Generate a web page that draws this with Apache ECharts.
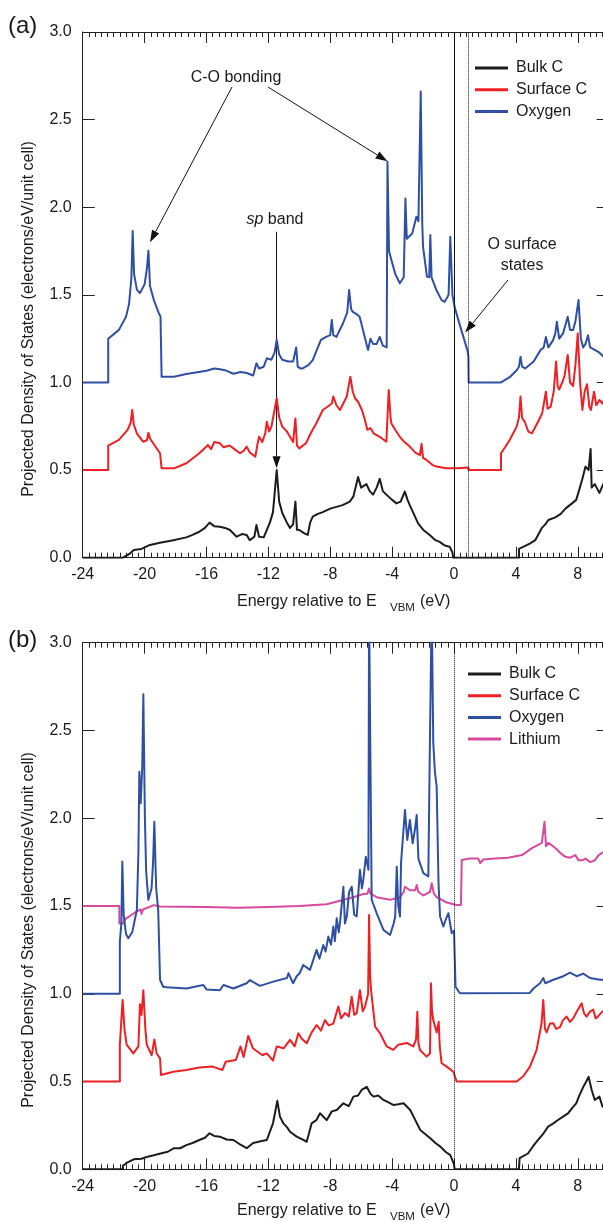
<!DOCTYPE html>
<html><head><meta charset="utf-8">
<script src="https://cdn.jsdelivr.net/npm/echarts@6/dist/echarts.min.js"></script>
<style>html,body{margin:0;padding:0;background:#fff}#c{width:603px;height:1222px}</style>
</head><body><div id="c"></div>
<script>
// ---------- axis ranges / ticks ----------
const X_MIN = -24, X_MAX = 10, X_MAJOR = 4, X_MINOR = 0.4, X_LAST_LABEL = 8;
const Y_MIN = 0, Y_MAX = 3, Y_STEP = 0.5;
const NAMES = ['Bulk C', 'Surface C', 'Oxygen', 'Lithium'];
const COLORS = ['#1c1c1c', '#ee2024', '#2f50a2', '#d84a9e'];
const X_TITLE = ['Energy relative to E', 'VBM', '(eV)'];
const Y_TITLE = 'Projected Density of States (electrons/eV/unit cell)';

// ---------- panel (a) data: [energy (eV), PDOS] ----------
const bulkA = [[-24,0],[-21.4,0],[-21.4,0.01],[-21.0,0.02],[-20.7,0.044],[-20.2,0.05],[-19.65,0.073],[-19.0,0.085],[-18.14,0.10],[-17.3,0.116],[-16.9,0.13],[-16.46,0.148],[-16.1,0.17],[-15.8,0.2],[-15.5,0.18],[-15.13,0.177],[-14.8,0.17],[-14.48,0.158],[-14.05,0.12],[-13.7,0.135],[-13.4,0.13],[-13.2,0.10],[-12.9,0.12],[-12.77,0.187],[-12.6,0.12],[-12.3,0.116],[-11.9,0.2],[-11.7,0.26],[-11.46,0.50],[-11.3,0.32],[-11.1,0.255],[-10.8,0.2],[-10.6,0.17],[-10.4,0.19],[-10.25,0.32],[-10.15,0.16],[-10.0,0.158],[-9.7,0.14],[-9.45,0.13],[-9.3,0.2],[-9.13,0.234],[-8.8,0.25],[-8.48,0.26],[-8.0,0.28],[-7.6,0.29],[-7.2,0.3],[-6.74,0.32],[-6.5,0.35],[-6.2,0.46],[-6.0,0.40],[-5.66,0.42],[-5.45,0.38],[-5.23,0.36],[-5.0,0.40],[-4.8,0.45],[-4.6,0.38],[-4.37,0.36],[-4.0,0.33],[-3.72,0.31],[-3.45,0.32],[-3.18,0.377],[-3.0,0.33],[-2.86,0.30],[-2.6,0.25],[-2.32,0.196],[-2.0,0.16],[-1.57,0.13],[-1.2,0.1],[-0.93,0.09],[-0.6,0.07],[-0.28,0.063],[-0.1,0.03],[-0.05,0],[4.2,0],[4.2,0.05],[4.5,0.063],[4.9,0.08],[5.25,0.10],[5.68,0.17],[5.9,0.19],[6.1,0.215],[6.55,0.23],[6.9,0.25],[7.2,0.28],[7.63,0.31],[7.9,0.33],[8.07,0.38],[8.3,0.45],[8.5,0.52],[8.7,0.5],[8.83,0.62],[8.9,0.40],[9.1,0.42],[9.4,0.37],[9.7,0.43],[10,0.38]];
const surfA = [[-24,0.5],[-22.35,0.5],[-22.35,0.64],[-22.3,0.64],[-21.66,0.672],[-21.1,0.73],[-20.9,0.77],[-20.8,0.843],[-20.7,0.76],[-20.5,0.71],[-20.1,0.662],[-19.85,0.67],[-19.75,0.713],[-19.65,0.68],[-19.5,0.66],[-19.0,0.596],[-18.9,0.596],[-18.9,0.51],[-18.1,0.51],[-17.3,0.539],[-16.46,0.596],[-15.9,0.643],[-15.7,0.62],[-15.5,0.66],[-15.13,0.653],[-14.9,0.63],[-14.5,0.64],[-14.26,0.624],[-13.83,0.596],[-13.6,0.61],[-13.4,0.634],[-13.2,0.6],[-12.84,0.577],[-12.7,0.65],[-12.6,0.69],[-12.4,0.66],[-12.2,0.71],[-12.1,0.776],[-11.95,0.72],[-11.8,0.748],[-11.46,0.91],[-11.3,0.8],[-11.1,0.748],[-10.8,0.72],[-10.6,0.69],[-10.4,0.66],[-10.25,0.795],[-10.15,0.64],[-10.0,0.624],[-9.57,0.653],[-9.2,0.72],[-8.9,0.767],[-8.48,0.843],[-8.2,0.86],[-7.9,0.88],[-7.8,0.92],[-7.6,0.87],[-7.37,0.843],[-6.93,0.92],[-6.7,1.033],[-6.55,0.95],[-6.4,0.91],[-6.2,0.89],[-5.95,0.843],[-5.8,0.8],[-5.6,0.73],[-5.4,0.74],[-5.2,0.71],[-5.0,0.7],[-4.8,0.69],[-4.37,0.662],[-4.25,0.66],[-4.22,0.957],[-4.1,0.8],[-4.05,0.767],[-3.8,0.73],[-3.5,0.69],[-3.2,0.66],[-2.86,0.634],[-2.5,0.6],[-2.2,0.586],[-2.1,0.65],[-2.0,0.57],[-1.78,0.558],[-1.4,0.53],[-1.14,0.52],[-0.5,0.51],[0.2,0.51],[0.93,0.515],[0.95,0.5],[3.04,0.5],[3.04,0.596],[3.3,0.63],[3.6,0.672],[4.05,0.748],[4.2,0.8],[4.3,0.92],[4.4,0.8],[4.6,0.77],[4.8,0.72],[5.04,0.71],[5.4,0.77],[5.7,0.824],[5.94,0.947],[6.05,0.85],[6.25,0.862],[6.45,0.95],[6.6,1.12],[6.7,0.98],[6.8,0.96],[7.0,1.0],[7.15,1.04],[7.35,1.157],[7.5,1.0],[7.7,0.98],[7.85,1.1],[8.0,1.28],[8.15,1.0],[8.3,0.843],[8.45,0.95],[8.6,0.99],[8.75,0.86],[8.85,0.843],[9.05,0.947],[9.2,0.87],[9.4,0.90],[9.6,0.88],[9.8,0.92],[10,0.9]];
const oxyA = [[-24,1.0],[-22.35,1.0],[-22.35,1.25],[-22.3,1.24],[-21.66,1.30],[-21.2,1.375],[-21.0,1.45],[-20.85,1.6],[-20.77,1.865],[-20.68,1.62],[-20.5,1.53],[-20.3,1.51],[-20.0,1.56],[-19.85,1.65],[-19.75,1.752],[-19.65,1.55],[-19.4,1.47],[-19.1,1.40],[-18.97,1.375],[-18.9,1.033],[-18.1,1.033],[-17.3,1.048],[-16.0,1.067],[-15.5,1.08],[-15.13,1.075],[-14.8,1.07],[-14.26,1.05],[-13.8,1.06],[-13.4,1.054],[-12.98,1.04],[-12.77,1.11],[-12.6,1.08],[-12.3,1.09],[-12.1,1.138],[-11.8,1.13],[-11.6,1.17],[-11.46,1.243],[-11.3,1.16],[-11.1,1.13],[-10.7,1.12],[-10.4,1.12],[-10.2,1.2],[-10.1,1.09],[-9.93,1.08],[-9.78,1.08],[-9.4,1.1],[-9.13,1.128],[-8.8,1.2],[-8.6,1.243],[-8.27,1.26],[-8.0,1.27],[-7.9,1.357],[-7.8,1.27],[-7.6,1.26],[-7.17,1.338],[-6.9,1.4],[-6.78,1.528],[-6.65,1.42],[-6.56,1.404],[-6.3,1.39],[-6.1,1.375],[-5.77,1.26],[-5.6,1.2],[-5.55,1.186],[-5.4,1.25],[-5.23,1.22],[-5.0,1.22],[-4.8,1.26],[-4.6,1.21],[-4.35,1.2],[-4.3,2.26],[-4.2,1.75],[-4.05,1.70],[-3.8,1.62],[-3.5,1.566],[-3.25,1.6],[-3.14,2.05],[-3.05,1.82],[-2.97,1.813],[-2.7,1.85],[-2.43,1.946],[-2.3,1.92],[-2.15,2.66],[-2.05,1.9],[-2.0,1.775],[-1.75,1.604],[-1.6,1.6],[-1.53,1.842],[-1.45,1.6],[-1.14,1.528],[-0.8,1.47],[-0.6,1.46],[-0.35,1.5],[-0.24,1.832],[-0.1,1.5],[0.04,1.43],[0.47,1.30],[0.86,1.186],[0.93,1.15],[0.95,1.0],[3.04,1.0],[3.6,1.03],[4.05,1.07],[4.2,1.09],[4.3,1.147],[4.4,1.09],[4.6,1.08],[5.15,1.12],[5.6,1.186],[5.8,1.2],[5.94,1.26],[6.1,1.2],[6.4,1.24],[6.55,1.28],[6.65,1.347],[6.8,1.25],[7.05,1.28],[7.35,1.375],[7.5,1.3],[7.7,1.30],[7.85,1.35],[8.05,1.47],[8.2,1.25],[8.35,1.2],[8.5,1.22],[8.66,1.27],[8.8,1.2],[9.1,1.186],[9.4,1.17],[9.75,1.14],[10,1.13]];

// ---------- panel (b) data ----------
const bulkB = [[-24,0],[-21.4,0],[-21.4,0.02],[-21.1,0.04],[-20.7,0.057],[-20.2,0.06],[-19.8,0.072],[-19.4,0.08],[-18.97,0.09],[-18.5,0.1],[-18.1,0.12],[-17.7,0.12],[-17.3,0.138],[-16.9,0.15],[-16.46,0.167],[-16.1,0.18],[-15.8,0.205],[-15.5,0.19],[-15.13,0.186],[-14.7,0.17],[-14.26,0.167],[-13.8,0.14],[-13.4,0.12],[-12.98,0.15],[-12.5,0.16],[-12.1,0.167],[-11.7,0.262],[-11.42,0.39],[-11.25,0.3],[-11.03,0.262],[-10.8,0.24],[-10.6,0.214],[-10.17,0.186],[-9.8,0.17],[-9.52,0.157],[-9.2,0.262],[-8.9,0.28],[-8.66,0.319],[-8.23,0.28],[-7.9,0.33],[-7.58,0.338],[-7.15,0.376],[-6.8,0.36],[-6.5,0.414],[-6.2,0.42],[-5.97,0.452],[-5.64,0.47],[-5.4,0.43],[-5.2,0.414],[-4.9,0.42],[-4.56,0.395],[-4.2,0.38],[-3.9,0.366],[-3.6,0.37],[-3.26,0.376],[-2.83,0.338],[-2.5,0.28],[-2.18,0.224],[-1.85,0.2],[-1.53,0.177],[-1.2,0.15],[-0.88,0.129],[-0.55,0.1],[-0.24,0.081],[0.0,0.03],[0.04,0],[4.2,0],[4.24,0.063],[4.78,0.09],[5.1,0.13],[5.43,0.167],[5.75,0.2],[6.08,0.243],[6.4,0.26],[6.72,0.281],[7.05,0.3],[7.37,0.319],[7.65,0.35],[7.9,0.376],[8.1,0.42],[8.36,0.47],[8.55,0.5],[8.7,0.527],[8.9,0.452],[9.1,0.395],[9.4,0.414],[9.6,0.357],[10,0.37]];
const surfB = [[-24,0.5],[-21.6,0.5],[-21.6,0.708],[-21.42,0.965],[-21.3,0.8],[-21.16,0.71],[-20.73,0.66],[-20.4,0.70],[-20.3,0.94],[-20.2,0.88],[-20.08,1.02],[-19.95,0.8],[-19.86,0.71],[-19.54,0.65],[-19.37,0.74],[-19.22,0.66],[-19.0,0.632],[-18.94,0.537],[-18.14,0.556],[-17.3,0.566],[-16.46,0.58],[-15.6,0.585],[-14.97,0.566],[-14.75,0.613],[-14.1,0.623],[-13.8,0.70],[-13.6,0.64],[-13.3,0.76],[-13.0,0.69],[-12.38,0.65],[-12.1,0.66],[-11.7,0.62],[-11.46,0.70],[-11.0,0.69],[-10.6,0.737],[-10.3,0.70],[-10.06,0.775],[-9.85,0.745],[-9.52,0.718],[-9.2,0.78],[-8.88,0.822],[-8.6,0.79],[-8.34,0.85],[-8.1,0.82],[-7.8,0.83],[-7.48,0.927],[-7.3,0.86],[-7.05,0.89],[-6.8,0.87],[-6.61,0.983],[-6.45,0.88],[-6.29,0.89],[-6.08,1.02],[-5.9,0.9],[-5.75,0.927],[-5.55,1.0],[-5.49,1.449],[-5.42,1.1],[-5.36,1.02],[-5.1,0.813],[-4.78,0.775],[-4.35,0.70],[-3.92,0.68],[-3.6,0.71],[-3.49,0.70],[-3.06,0.72],[-2.63,0.70],[-2.45,0.74],[-2.37,0.898],[-2.3,0.72],[-2.2,0.68],[-1.77,0.642],[-1.55,0.66],[-1.49,1.06],[-1.42,0.9],[-1.34,0.85],[-1.12,0.78],[-0.99,0.84],[-0.92,0.7],[-0.8,0.604],[-0.47,0.585],[-0.04,0.556],[0.17,0.5],[4.05,0.5],[4.48,0.53],[4.91,0.585],[5.34,0.68],[5.66,0.832],[5.77,0.965],[5.88,0.8],[5.99,0.78],[6.2,0.83],[6.42,0.832],[6.6,0.8],[6.85,0.81],[7.05,0.85],[7.28,0.87],[7.5,0.84],[7.71,0.86],[7.95,0.9],[8.25,0.946],[8.4,0.89],[8.57,0.87],[8.8,0.9],[9.0,0.91],[9.15,0.86],[9.3,0.87],[9.6,0.90],[10,0.89]];
const oxyB = [[-24,1.0],[-21.6,1.0],[-21.6,1.297],[-21.5,1.4],[-21.44,1.753],[-21.35,1.45],[-21.2,1.34],[-21.05,1.316],[-20.8,1.35],[-20.5,1.477],[-20.4,1.8],[-20.34,2.265],[-20.25,2.085],[-20.15,2.3],[-20.08,2.706],[-19.98,2.0],[-19.9,1.7],[-19.76,1.535],[-19.55,1.6],[-19.45,1.75],[-19.37,1.98],[-19.25,1.6],[-19.12,1.477],[-19.0,1.08],[-18.8,1.04],[-18.58,1.037],[-17.3,1.03],[-16.2,1.05],[-16.0,1.025],[-15.13,1.02],[-14.9,1.05],[-14.26,1.03],[-13.4,1.06],[-13.19,1.078],[-12.55,1.045],[-11.68,1.069],[-10.8,1.09],[-10.7,1.117],[-10.4,1.06],[-10.17,1.1],[-9.98,1.117],[-9.74,1.164],[-9.31,1.136],[-8.88,1.25],[-8.7,1.2],[-8.45,1.278],[-8.3,1.24],[-8.12,1.326],[-7.95,1.28],[-7.8,1.383],[-7.7,1.3],[-7.58,1.43],[-7.45,1.35],[-7.37,1.402],[-7.15,1.61],[-7.05,1.4],[-6.93,1.44],[-6.78,1.58],[-6.61,1.61],[-6.45,1.45],[-6.29,1.44],[-6.08,1.706],[-5.95,1.6],[-5.86,1.65],[-5.7,1.78],[-5.53,1.706],[-5.49,3.2],[-5.43,3.2],[-5.32,1.535],[-5.0,1.459],[-4.56,1.364],[-4.13,1.335],[-3.9,1.4],[-3.8,1.44],[-3.7,1.724],[-3.6,1.5],[-3.49,1.44],[-3.42,1.75],[-3.17,2.047],[-3.02,1.876],[-2.85,1.99],[-2.67,1.857],[-2.5,1.95],[-2.41,2.019],[-2.3,1.77],[-1.98,1.687],[-1.66,1.668],[-1.55,2.484],[-1.44,3.2],[-1.38,3.2],[-1.34,2.43],[-1.23,2.26],[-1.12,2.18],[-1.0,1.63],[-0.9,1.44],[-0.69,1.383],[-0.5,1.43],[-0.36,1.459],[-0.15,1.345],[0.0,1.36],[0.1,1.04],[0.38,1.003],[4.9,1.005],[5.13,1.03],[5.56,1.06],[5.77,1.09],[5.9,1.06],[6.42,1.08],[7.07,1.1],[7.5,1.12],[7.93,1.1],[8.36,1.115],[8.79,1.09],[9.44,1.08],[10,1.08]];
const liB = [[-24,1.5],[-21.63,1.5],[-21.63,1.40],[-21.4,1.40],[-21.2,1.43],[-21.0,1.44],[-20.5,1.47],[-20.25,1.48],[-20.2,1.455],[-20.1,1.48],[-19.4,1.505],[-19.0,1.497],[-16,1.495],[-14,1.49],[-12,1.495],[-10,1.5],[-9.0,1.505],[-8.23,1.51],[-7.37,1.53],[-6.5,1.55],[-5.86,1.568],[-5.6,1.57],[-5.49,1.6],[-5.4,1.57],[-5.0,1.55],[-4.13,1.535],[-3.49,1.55],[-3.25,1.58],[-3.17,1.61],[-2.85,1.59],[-2.5,1.59],[-2.41,1.62],[-2.3,1.58],[-1.98,1.56],[-1.55,1.58],[-1.44,1.63],[-1.3,1.57],[-1.12,1.55],[-0.47,1.52],[0.17,1.506],[0.45,1.506],[0.5,1.762],[1.03,1.77],[1.57,1.77],[1.7,1.745],[1.9,1.765],[2.65,1.77],[3.5,1.775],[4.4,1.79],[5.04,1.83],[5.47,1.85],[5.68,1.86],[5.85,1.98],[5.95,1.84],[6.1,1.86],[6.55,1.83],[6.9,1.8],[7.2,1.78],[7.5,1.775],[7.84,1.79],[8.05,1.76],[8.27,1.76],[8.5,1.77],[8.8,1.75],[9.1,1.76],[9.35,1.79],[9.7,1.81],[10,1.8]];

// reference energies for vertical guide lines
const vLinesA = [{x: 0, type: 'solid'}, {x: 0.93, type: 'dotted'}];
const vLinesB = [{x: 0, type: 'dotted'}];

const FONT = '"Liberation Sans", Arial, Helvetica, sans-serif';
const INK = '#1a1a1a';
const AX = '#222';

const chart = echarts.init(document.getElementById('c'), null, {renderer: 'canvas'});

const grids = [
  {left: 82.7, top: 32, width: 526, height: 525.7, outerBoundsMode: 'none', containLabel: false},
  {left: 82.7, top: 642.7, width: 526, height: 526.6, outerBoundsMode: 'none', containLabel: false}
];

function xAx(gi, pos, major, labels) {
  return {
    type: 'value', gridIndex: gi, position: pos, min: X_MIN, max: X_MAX,
    interval: major ? X_MAJOR : X_MINOR,
    axisLine: {show: major, onZero: false, lineStyle: {color: AX, width: 1}},
    axisTick: {show: true, inside: true, length: major ? 11 : 5, lineStyle: {color: AX, width: 1}},
    axisLabel: {show: labels, margin: 9, fontSize: 16, fontFamily: FONT, color: INK,
      formatter: v => (v > X_LAST_LABEL + 0.01 ? '' : String(Math.round(v)))},
    splitLine: {show: false}
  };
}
function yAx(gi, pos, labels) {
  return {
    type: 'value', gridIndex: gi, position: pos, min: Y_MIN, max: Y_MAX, interval: Y_STEP,
    axisLine: {show: labels, onZero: false, lineStyle: {color: AX, width: 1}},
    axisTick: {show: true, inside: true, length: 12, lineStyle: {color: AX, width: 1}},
    axisLabel: {show: labels, margin: 11, fontSize: 16, fontFamily: FONT, color: INK,
      formatter: v => v.toFixed(1)},
    splitLine: {show: false}
  };
}

const xAxes = [
  xAx(0, 'bottom', true, true), xAx(0, 'bottom', false, false),
  xAx(0, 'top', true, false), xAx(0, 'top', false, false),
  xAx(1, 'bottom', true, true), xAx(1, 'bottom', false, false),
  xAx(1, 'top', true, false), xAx(1, 'top', false, false)
];
const yAxes = [yAx(0, 'left', true), yAx(0, 'right', false), yAx(1, 'left', true), yAx(1, 'right', false)];

function line(name, data, ci, xi, yi, vlines) {
  const s = {
    type: 'line', name, data, xAxisIndex: xi, yAxisIndex: yi,
    showSymbol: false, symbol: 'none', clip: true, animation: false,
    lineStyle: {color: COLORS[ci], width: 2, join: 'round'},
    itemStyle: {color: COLORS[ci]}, z: 3
  };
  if (vlines) {
    s.markLine = {
      silent: true, symbol: 'none', animation: false, label: {show: false},
      data: vlines.map(v => ({xAxis: v.x, lineStyle: {type: v.type, color: '#111', width: 1}}))
    };
  }
  return s;
}

const series = [
  line(NAMES[0], bulkA, 0, 0, 0, vLinesA),
  line(NAMES[1], surfA, 1, 0, 0),
  line(NAMES[2], oxyA, 2, 0, 0),
  line(NAMES[3], liB, 3, 4, 2),
  line(NAMES[0], bulkB, 0, 4, 2, vLinesB),
  line(NAMES[1], surfB, 1, 4, 2),
  line(NAMES[2], oxyB, 2, 4, 2)
];

function legend(names, left, top) {
  return {
    data: names, orient: 'vertical', left, top, padding: 0, icon: 'rect', itemWidth: 33, itemHeight: 3,
    itemGap: 5.7, selectedMode: false,
    textStyle: {fontSize: 16, fontFamily: FONT, color: INK, lineHeight: 16, padding: [0, 0, 0, 3]}
  };
}

chart.setOption({
  animation: false,
  backgroundColor: '#fff',
  grid: grids,
  xAxis: xAxes,
  yAxis: yAxes,
  legend: [legend(NAMES.slice(0, 3), 475, 60), legend(NAMES, 468, 666)],
  series
});

// ---------- annotations (placed in data coordinates of panel a) ----------
const P = (x, y) => chart.convertToPixel({gridIndex: 0}, [x, y]);
function arrow(a, b) {
  const dx = b[0] - a[0], dy = b[1] - a[1], L = Math.hypot(dx, dy);
  const ux = dx / L, uy = dy / L, hl = 12, hw = 4;
  const bx = b[0] - ux * hl, by = b[1] - uy * hl;
  return [
    {type: 'line', shape: {x1: a[0], y1: a[1], x2: bx, y2: by}, style: {stroke: '#111', lineWidth: 1}, silent: true},
    {type: 'polygon', shape: {points: [[b[0], b[1]], [bx - uy * hw, by + ux * hw], [bx + uy * hw, by - ux * hw]]},
      style: {fill: '#111'}, silent: true}
  ];
}
function txt(x, y, text, size) {
  return {type: 'text', x, y, silent: true,
    style: {text, fontSize: size, fontFamily: FONT, fill: INK, align: 'center', verticalAlign: 'middle'}};
}

const coText = P(-14.09, 2.74);
const spText = P(-11.57, 1.93);
const osText1 = P(4.4, 1.784);
const osText2 = P(4.4, 1.665);
const g = [];
g.push(...arrow(P(-14.35, 2.686), P(-19.65, 1.80)));
g.push(...arrow(P(-12.02, 2.686), P(-4.3, 2.262)));
g.push(...arrow(P(-11.47, 1.86), P(-11.47, 0.51)));
g.push(...arrow(P(3.49, 1.585), P(0.72, 1.285)));
g.push(txt(coText[0], coText[1], 'C-O bonding', 16));
g.push({type: 'text', x: spText[0], y: spText[1], silent: true,
  style: {text: '{i|sp} band', fontSize: 16, fontFamily: FONT, fill: INK, align: 'center', verticalAlign: 'middle',
    rich: {i: {fontStyle: 'italic', fontSize: 16, fontFamily: FONT, fill: INK}}}});
g.push(txt(osText1[0], osText1[1], 'O surface', 16));
g.push(txt(osText2[0], osText2[1], 'states', 16));

// panel labels, axis titles
[[0, 26, 602, 608, 319], [1, 640, 1211, 1217, 930]].forEach(([gi, ly, ty, sy, yc]) => {
  g.push({type: 'text', x: 8, y: ly, silent: true,
    style: {text: gi === 0 ? '(a)' : '(b)', fontSize: 24, fontFamily: FONT, fill: INK, align: 'left', verticalAlign: 'middle'}});
  g.push({type: 'text', x: 237, y: ty, silent: true,
    style: {text: X_TITLE[0], fontSize: 16, fontFamily: FONT, fill: INK, align: 'left', verticalAlign: 'middle'}});
  g.push({type: 'text', x: 390, y: sy, silent: true,
    style: {text: X_TITLE[1], fontSize: 11.5, fontFamily: FONT, fill: INK, align: 'left', verticalAlign: 'middle'}});
  g.push({type: 'text', x: 420, y: ty, silent: true,
    style: {text: X_TITLE[2], fontSize: 16, fontFamily: FONT, fill: INK, align: 'left', verticalAlign: 'middle'}});
  g.push({type: 'text', x: 28.5, y: yc, rotation: Math.PI / 2, silent: true,
    style: {text: Y_TITLE, fontSize: 16, fontFamily: FONT, fill: INK, align: 'center', verticalAlign: 'middle'}});
});

chart.setOption({graphic: {elements: g}});
</script>
</body></html>
